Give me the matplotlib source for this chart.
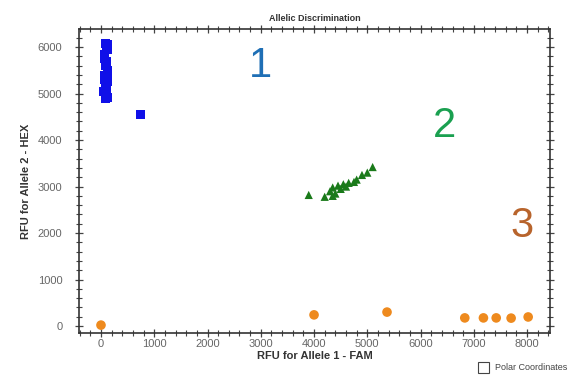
import matplotlib
matplotlib.use("Agg")
import matplotlib.pyplot as plt
from matplotlib.ticker import MultipleLocator
from matplotlib.patches import Rectangle

plt.rcParams['font.family'] = ['Liberation Sans', 'DejaVu Sans']

# Cluster 1 (Allele 2 / HEX) - blue squares
allele2_x = [80, 120, 100, 130, 70, 110, 90, 120, 60, 100, 130, 80, 50, 110, 90, 130, 70, 120, 60, 100, 740]
allele2_y = [6080, 6050, 5980, 5950, 5750, 5700, 5600, 5500, 5400, 5350, 5250, 5150, 5050, 5000, 4900, 4920, 5850, 5450, 5300, 5100, 4560]

# Cluster 2 (heterozygous) - green triangles
het_x = [3900, 4200, 4300, 4350, 4400, 4450, 4500, 4550, 4650, 4750, 4800, 4900, 5000, 5100, 4600, 4350]
het_y = [2820, 2780, 2900, 2980, 2850, 3020, 2950, 3050, 3080, 3100, 3150, 3250, 3300, 3420, 3000, 2800]

# Cluster 3 (Allele 1 / FAM) - orange circles
allele1_x = [0, 4000, 5370, 6830, 7180, 7420, 7700, 8020]
allele1_y = [20, 240, 300, 175, 175, 175, 170, 195]

xticks = [0, 1000, 2000, 3000, 4000, 5000, 6000, 7000, 8000]
yticks = [0, 1000, 2000, 3000, 4000, 5000, 6000]

fig = plt.figure(figsize=(5.74, 3.77), dpi=100)
ax = fig.add_axes([0.1376, 0.1167, 0.8206, 0.8064])

ax.scatter(allele2_x, allele2_y, marker='s', s=42, color='#1010e8', edgecolors='none', zorder=3)
ax.scatter(het_x, het_y, marker='^', s=35, color='#1a7a1a', edgecolors='none', zorder=3)
ax.scatter(allele1_x, allele1_y, marker='o', s=48, color='#ee8a1e', edgecolors='none', zorder=3)

ax.set_xlim(-413, 8430)
ax.set_ylim(-150, 6390)
ax.set_xticks(xticks)
ax.set_yticks(yticks)
ax.xaxis.set_minor_locator(MultipleLocator(200))
ax.yaxis.set_minor_locator(MultipleLocator(200))
ax.tick_params(which='both', direction='inout', top=True, right=True, labelcolor='#666666',
               labelsize=8, color='#444444')
ax.tick_params(which='major', length=6, width=0.9)
ax.tick_params(which='minor', length=4, width=0.8)
ax.tick_params(axis='x', which='major', pad=1.5)
ax.tick_params(axis='y', which='major', pad=9)
for sp in ax.spines.values():
    sp.set_linewidth(1.2)
    sp.set_color('#333333')

ax.set_xlabel('RFU for Allele 1 - FAM', fontsize=8, fontweight='bold', color='#333333', labelpad=1)
ax.set_ylabel('RFU for Allele 2 - HEX', fontsize=8, fontweight='bold', color='#333333', labelpad=5)
ax.set_title('Allelic Discrimination', fontsize=6.5, fontweight='bold', color='#333333', pad=6)

ax.text(3000, 5600, '1', fontsize=30, color='#1f6fb5', ha='center', va='center')
ax.text(6450, 4300, '2', fontsize=30, color='#1aa050', ha='center', va='center')
ax.text(7900, 2160, '3', fontsize=30, color='#b8642c', ha='center', va='center')

fig.patches.append(Rectangle((478/574, 1 - 373/377), 11/574, 11/377, transform=fig.transFigure,
                             fill=False, edgecolor='#444444', linewidth=0.8))
fig.text(495/574, 1 - 368/377, 'Polar Coordinates', fontsize=6.5, color='#444444', va='center', ha='left')

fig.savefig('out.png', dpi=100)
